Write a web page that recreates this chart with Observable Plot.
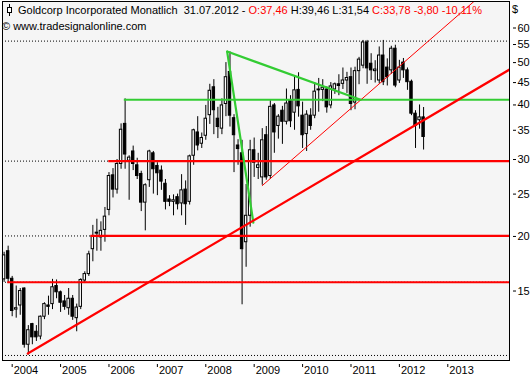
<!DOCTYPE html>
<html><head><meta charset="utf-8">
<script src="https://cdn.jsdelivr.net/npm/d3@7"></script>
<script src="https://cdn.jsdelivr.net/npm/@observablehq/plot@0.6"></script>
<style>
body{margin:0;background:#fff;}
#wrap{position:relative;width:530px;height:380px;font-family:"Liberation Sans",Arial,sans-serif;font-size:11px;color:#000;}
#hdr{position:absolute;left:2px;top:2px;line-height:16px;white-space:pre;}
#hdr svg{vertical-align:-2px;margin-left:4px;margin-right:5px;}
.r{color:#f00;}
#cur{position:absolute;left:512px;top:3px;}
</style></head><body>
<div id="wrap">
<div id="chart"></div>
<div id="hdr"><div><svg width="7" height="12"><line x1="3.5" y1="0" x2="3.5" y2="12" stroke="#000"/><rect x="1.5" y="3.5" width="4" height="5" fill="#fff" stroke="#000"/></svg>Goldcorp Incorporated Monatlich  31.07.2012 - <span class="r">O:37,46</span> H:39,46 L:31,54 <span class="r">C:33,78 -3,80 -10,11%</span></div><div>© www.tradesignalonline.com</div></div>
<div id="cur">$</div>
</div>
<script>
// Monthly candles, first month = Nov 2003 (index 0), last = Jul 2012 (index 104)
const firstMonth = "2003-11";
const open = [15.95,18.5,16.0,13.6,13.9,15.2,11.3,12.6,12.1,11.8,13.1,13.9,14.0,15.4,14.9,14.2,13.7,14.4,13.0,13.8,15.85,16.4,18.7,20.4,19.9,20.7,23.0,27.6,25.6,29.3,36.2,29.8,31.3,29.1,27.8,23.9,26.9,31.0,29.0,28.3,26.4,24.3,24.0,24.6,23.8,25.6,24.0,30.6,34.6,32.6,34.0,37.9,43.9,37.2,35.3,40.2,47.6,37.3,32.3,31.0,19.4,22.3,31.5,28.7,27.3,34.1,27.5,39.9,35.8,38.8,36.6,41.0,38.4,43.3,37.8,34.3,37.8,37.8,43.2,43.3,43.4,39.9,43.4,44.6,44.7,45.5,46.3,40.5,47.8,49.2,55.6,49.7,47.8,45.5,51.9,48.7,48.0,53.8,45.5,50.0,48.0,45.2,38.2,36.9,37.46];
const high = [18.4,19.0,16.2,15.4,15.2,15.25,12.5,12.65,12.5,13.15,14.1,14.6,15.95,15.9,15.0,14.65,15.2,14.65,14.0,16.0,16.6,18.5,21.2,21.9,21.6,23.3,28.0,28.6,30.0,36.2,41.3,30.6,32.2,30.2,28.2,26.4,31.5,31.3,29.5,29.0,27.0,24.8,24.9,25.0,27.7,26.8,30.7,35.2,37.6,34.5,39.9,44.6,45.7,39.5,41.3,50.0,52.9,38.0,33.3,33.2,26.3,33.2,33.6,31.0,35.3,35.7,40.9,40.3,38.0,39.7,43.5,42.0,46.5,47.4,40.6,38.8,39.2,45.0,46.0,45.7,44.0,45.0,44.9,46.9,48.6,47.5,48.6,48.8,51.4,56.2,56.2,52.4,50.5,54.3,56.2,51.0,54.5,54.8,50.6,51.1,48.6,45.6,38.8,40.0,39.46];
const low = [15.7,15.6,13.1,13.0,13.2,11.1,10.7,11.3,11.5,11.6,12.9,13.2,13.6,14.4,13.4,13.55,13.2,12.85,12.1,13.6,15.6,16.2,17.5,18.5,18.5,19.4,22.3,24.5,25.0,28.5,28.5,24.2,28.3,27.0,22.8,20.6,25.9,25.0,24.8,25.5,23.0,23.4,22.3,23.0,22.3,21.2,23.6,29.1,31.4,31.8,33.2,36.1,34.2,33.5,34.2,37.6,35.6,28.0,29.1,13.95,17.0,21.0,27.3,27.0,26.2,26.9,27.0,31.0,33.4,32.5,36.0,35.5,35.0,37.5,31.8,31.3,35.0,37.2,38.5,40.7,38.3,39.2,42.3,42.0,43.4,42.5,38.8,39.0,44.5,48.4,44.6,45.5,44.9,44.7,44.3,44.2,47.0,43.8,44.8,46.0,43.2,37.8,31.8,35.2,31.54];
const close = [18.1,16.0,13.5,13.7,15.0,11.3,12.2,11.75,11.75,13.1,14.0,13.8,15.3,14.9,14.1,13.8,14.4,13.1,13.75,15.9,16.4,18.2,20.0,20.3,20.6,22.2,27.5,25.6,29.3,35.1,30.8,30.3,29.3,27.5,23.9,26.2,31.3,28.5,27.9,26.7,24.0,24.0,24.2,23.7,25.5,23.7,30.5,35.0,32.3,33.6,37.2,43.1,38.9,35.6,39.9,46.3,37.8,34.1,31.7,18.7,22.3,31.5,29.5,29.1,33.2,27.3,39.6,34.6,37.6,36.6,40.3,36.7,43.2,39.7,34.1,38.0,35.8,42.9,43.4,43.8,39.5,44.1,44.6,44.2,45.5,46.1,40.2,47.8,50.8,55.6,48.5,48.0,48.2,51.9,45.1,46.3,53.8,44.3,48.7,48.0,45.1,38.2,35.8,37.46,33.78];

// Year tick labels (January of each year)
const years = ["2004","2005","2006","2007","2008","2009","2010","2011","2012","2013"];
// Price axis tick labels
const priceTicks = [15,20,25,30,35,40,45,50,55,60];

// Drawn objects (month index, price)
const dottedLevels = [56.0, 29.75, 20.05, 15.71, 10.68];
const redLevelStart = [0.9, 21.5, 25.95];
const redLevelPrice = [15.71, 20.05, 29.75];
const greenLevelStart = [29.8];
const greenLevelPrice = [41.1];
const thickTrendIdx = [5.87, 125.3];
const thickTrendPrice = [10.79, 48.2];
const thinTrendIdx = [64, 119];
const thinTrendPrice = [26.15, 72.3];
const greenDescIdx = [55.3, 88.4];
const greenDescPrice = [53.0, 41.1];
const greenSteepIdx = [55.3, 61.8];
const greenSteepPrice = [53.0, 21.5];

const xDomain = [-0.4, 125.3];
const yDomain = [10.40, 69.0];

const [fy, fm] = firstMonth.split("-").map(Number);
const yearIdx = years.map(y => (+y - fy) * 12 + (1 - fm));
const candles = open.map((o, i) => ({i, o, h: high[i], l: low[i], c: close[i]}));
const up = candles.filter(d => d.c >= d.o);
const down = candles.filter(d => d.c < d.o);
const pts = (xs, ys) => xs.map((x, k) => ({i: x, v: ys[k]}));
const redLevels = pts(redLevelStart, redLevelPrice);
const greenLevels = pts(greenLevelStart, greenLevelPrice);

const chart = Plot.plot({
  width: 530, height: 380,
  marginLeft: 2, marginRight: 21, marginTop: 1, marginBottom: 20,
  style: {background: "white", fontFamily: "'Liberation Sans', Arial, sans-serif", fontSize: "11px", color: "black", overflow: "visible"},
  x: {type: "linear", domain: xDomain, label: null},
  y: {type: "log", domain: yDomain, label: null},
  marks: [
    Plot.frame({fill: "#f5f5f5"}),
    Plot.ruleY(dottedLevels, {stroke: "black", strokeDasharray: "1,2", strokeWidth: 1}),
    Plot.ruleX(candles, {x: "i", y1: "l", y2: "h", stroke: "black", strokeWidth: 1}),
    Plot.rect(up, {x1: d => d.i - 0.3, x2: d => d.i + 0.3, y1: "o", y2: "c", fill: "white", stroke: "black", strokeWidth: 1}),
    Plot.rect(down, {x1: d => d.i - 0.3, x2: d => d.i + 0.3, y1: "o", y2: "c", fill: "black", stroke: "black", strokeWidth: 1}),
    Plot.ruleY(redLevels, {y: "v", x1: "i", x2: xDomain[1], stroke: "#ff0000", strokeWidth: 2.2}),
    Plot.ruleY(greenLevels, {y: "v", x1: "i", x2: xDomain[1], stroke: "#33cc33", strokeWidth: 2}),
    Plot.line(pts(thinTrendIdx, thinTrendPrice), {x: "i", y: "v", stroke: "#ff0000", strokeWidth: 1, clip: true}),
    Plot.line(pts(greenDescIdx, greenDescPrice), {x: "i", y: "v", stroke: "#33cc33", strokeWidth: 2.2}),
    Plot.line(pts(greenSteepIdx, greenSteepPrice), {x: "i", y: "v", stroke: "#33cc33", strokeWidth: 2.2}),
    Plot.line(pts(thickTrendIdx, thickTrendPrice), {x: "i", y: "v", stroke: "#ff0000", strokeWidth: 2.2, clip: true}),
    Plot.frame({stroke: "black", strokeWidth: 1}),
    Plot.axisY({anchor: "right", ticks: priceTicks, tickFormat: d => String(d), tickSize: 3, tickPadding: 2, dx: 3, label: null}),
    Plot.axisX({ticks: yearIdx, tickSize: 3, dy: 4, tickFormat: () => "", label: null}),
    Plot.axisX({ticks: yearIdx, tickSize: 0, tickPadding: 6, dx: 1.5, textAnchor: "start", tickFormat: (d, k) => years[yearIdx.indexOf(d)], label: null})
  ]
});
document.getElementById("chart").appendChild(chart);
</script>
</body></html>
